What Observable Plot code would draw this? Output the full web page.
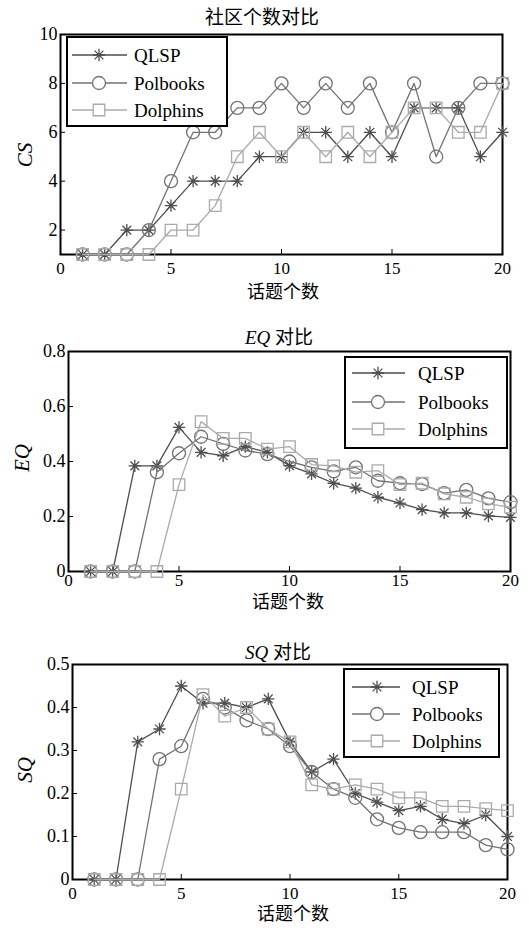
<!DOCTYPE html>
<html>
<head>
<meta charset="utf-8">
<script src="https://cdn.jsdelivr.net/npm/d3@7"></script>
<script src="https://cdn.jsdelivr.net/npm/@observablehq/plot@0.6"></script>
<style>
  html, body { margin: 0; padding: 0; background: #fff; }
  #root { position: relative; width: 529px; height: 928px; overflow: hidden; font-family: "Liberation Serif", "Noto Sans CJK SC", serif; }
  .abs { position: absolute; }
  .t { position: absolute; white-space: nowrap; transform: translate(-50%, -50%); color: #000; line-height: 1; }
  .yl { position: absolute; white-space: nowrap; transform: translate(-50%, -50%) rotate(-90deg); font-style: italic; font-size: 21px; line-height: 1; }
</style>
</head>
<body>
<div id="root"></div>
<script>
// ---------- data ----------
const topics = d3.range(1, 21);
const seriesNames = ["QLSP", "Polbooks", "Dolphins"];
const seriesColors = ["#4e4e4e", "#727272", "#aaaaaa"];
const xTicks = [0, 5, 10, 15, 20];

// 社区个数 (CS)
const csQLSP     = [1,1,2,2,3,4,4,4,5,5,6,6,5,6,5,7,7,7,5,6];
const csPolbooks = [1,1,1,2,4,6,6,7,7,8,7,8,7,8,6,8,5,7,8,8];
const csDolphins = [1,1,1,1,2,2,3,5,6,5,6,5,6,5,6,7,7,6,6,8];
const csTicks = [2, 4, 6, 8, 10];

// EQ
const eqQLSP     = [0,0,0.384,0.384,0.524,0.433,0.421,0.454,0.433,0.385,0.355,0.321,0.303,0.27,0.249,0.225,0.213,0.213,0.202,0.197];
const eqPolbooks = [0,0,0,0.361,0.43,0.49,0.464,0.44,0.427,0.40,0.379,0.364,0.379,0.33,0.321,0.318,0.285,0.297,0.266,0.252];
const eqDolphins = [0,0,0,0,0.316,0.545,0.484,0.484,0.445,0.454,0.389,0.384,0.361,0.367,0.316,0.321,0.282,0.27,0.246,0.234];
const eqTicks = [0, 0.2, 0.4, 0.6, 0.8];

// SQ
const sqQLSP     = [0,0,0.32,0.35,0.45,0.41,0.41,0.40,0.42,0.32,0.25,0.28,0.20,0.18,0.16,0.17,0.14,0.13,0.15,0.10];
const sqPolbooks = [0,0,0,0.28,0.31,0.42,0.40,0.37,0.35,0.31,0.25,0.21,0.19,0.14,0.12,0.11,0.11,0.11,0.08,0.07];
const sqDolphins = [0,0,0,0,0.21,0.43,0.38,0.40,0.35,0.32,0.22,0.21,0.22,0.21,0.19,0.19,0.17,0.17,0.165,0.16];
const sqTicks = [0, 0.1, 0.2, 0.3, 0.4, 0.5];

// ---------- helpers ----------
const asteriskSymbol = {
  draw(ctx, size) {
    const r = Math.sqrt(size / Math.PI) * 0.95;
    const d = r * Math.SQRT1_2;
    ctx.moveTo(0, -r); ctx.lineTo(0, r);
    ctx.moveTo(-r, 0); ctx.lineTo(r, 0);
    ctx.moveTo(-d, -d); ctx.lineTo(d, d);
    ctx.moveTo(-d, d); ctx.lineTo(d, -d);
  }
};
const symbols = [asteriskSymbol, "circle", "square"];

function rowsOf(arr) { return topics.map((t, i) => ({x: t, v: arr[i]})); }

const root = document.getElementById("root");
const serif = "'Liberation Serif', 'Times New Roman', serif";

function panel(cfg) {
  const marks = [
    Plot.frame({stroke: "#000", strokeWidth: 2}),
    Plot.axisX({ticks: xTicks, tickSize: -5, tickPadding: cfg.xPad, label: null, fontSize: 17, fontFamily: serif, tickFormat: d => String(d)}),
    Plot.axisY({ticks: cfg.yTicks, tickSize: -5, tickPadding: 8, label: null, fontSize: 18, fontFamily: serif, tickFormat: d => String(d)})
  ];
  cfg.series.forEach((arr, i) => {
    const rows = rowsOf(arr);
    marks.push(Plot.line(rows, {x: "x", y: "v", stroke: seriesColors[i], strokeWidth: 1.3}));
    marks.push(Plot.dot(rows, {x: "x", y: "v", stroke: seriesColors[i], fill: "none", strokeWidth: 1.3,
      symbol: symbols[i], r: 6.5}));
  });
  const chart = Plot.plot({
    width: 529, height: cfg.height,
    marginLeft: cfg.ml, marginRight: cfg.mr, marginTop: cfg.mt, marginBottom: cfg.mb,
    style: {fontFamily: serif, fontSize: "18px", color: "#000", background: "transparent", overflow: "visible"},
    x: {domain: [0, 20]},
    y: {domain: cfg.yDomain},
    marks
  });
  chart.style.position = "absolute";
  chart.style.left = "0px";
  chart.style.top = cfg.top + "px";
  root.appendChild(chart);

  // title
  const t = document.createElement("div");
  t.className = "t";
  t.style.left = cfg.title.x + "px"; t.style.top = cfg.title.y + "px";
  t.style.fontSize = "19px";
  t.innerHTML = cfg.title.html;
  root.appendChild(t);
  // x label
  const xl = document.createElement("div");
  xl.className = "t";
  xl.style.left = cfg.xlab.x + "px"; xl.style.top = cfg.xlab.y + "px";
  xl.style.fontSize = "18px";
  xl.textContent = "话题个数";
  root.appendChild(xl);
  // y label
  const yl = document.createElement("div");
  yl.className = "yl";
  yl.style.left = cfg.ylab.x + "px"; yl.style.top = cfg.ylab.y + "px";
  yl.textContent = cfg.ylab.text;
  root.appendChild(yl);

  // legend
  const L = cfg.legend;
  const svg = d3.select(root).append("svg")
    .attr("class", "abs")
    .style("left", L.left + "px").style("top", L.top + "px")
    .attr("width", L.w + 2).attr("height", L.h + 2)
    .style("overflow", "visible");
  svg.append("rect").attr("x", 1).attr("y", 1).attr("width", L.w).attr("height", L.h)
    .attr("fill", "#fff").attr("stroke", "#000").attr("stroke-width", 2);
  seriesNames.forEach((name, i) => {
    const g = svg.append("g").attr("transform", `translate(0,${L.rows[i]})`);
    g.append("line").attr("x1", L.l1).attr("x2", L.l2).attr("y1", 0).attr("y2", 0)
      .attr("stroke", seriesColors[i]).attr("stroke-width", 1.3);
    const sym = i === 0 ? asteriskSymbol : (i === 1 ? d3.symbolCircle : d3.symbolSquare);
    g.append("path").attr("d", d3.symbol(sym, 6.5 * 6.5 * Math.PI)())
      .attr("transform", `translate(${L.m},0)`)
      .attr("fill", i === 0 ? "none" : "#fff").attr("stroke", seriesColors[i]).attr("stroke-width", 1.3);
    g.append("text").attr("x", L.tx).attr("y", 0).attr("dy", "0.35em")
      .attr("font-family", serif).attr("font-size", 19).attr("fill", "#000")
      .text(name);
  });
}

panel({
  top: 0, height: 310, ml: 60, mr: 27, mt: 34, mb: 56, xPad: 12,
  yDomain: [1, 10], yTicks: csTicks,
  series: [csQLSP, csPolbooks, csDolphins],
  title: {x: 262, y: 17, html: "社区个数对比"},
  xlab: {x: 283, y: 292},
  ylab: {x: 25, y: 155, text: "CS"},
  legend: {left: 66, top: 36, w: 160, h: 89, rows: [19, 47, 74], l1: 6, l2: 61, m: 33, tx: 68}
});

panel({
  top: 310, height: 310, ml: 68, mr: 19, mt: 41, mb: 49, xPad: 7,
  yDomain: [0, 0.8], yTicks: eqTicks,
  series: [eqQLSP, eqPolbooks, eqDolphins],
  title: {x: 279, y: 337, html: "<i>EQ</i> 对比"},
  xlab: {x: 288, y: 602},
  ylab: {x: 22, y: 458, text: "EQ"},
  legend: {left: 344, top: 356, w: 162, h: 91, rows: [17, 46, 73], l1: 8, l2: 61, m: 34, tx: 74}
});

panel({
  top: 620, height: 308, ml: 72, mr: 22, mt: 44, mb: 49, xPad: 12,
  yDomain: [0, 0.5], yTicks: sqTicks,
  series: [sqQLSP, sqPolbooks, sqDolphins],
  title: {x: 278, y: 652, html: "<i>SQ</i> 对比"},
  xlab: {x: 293, y: 914},
  ylab: {x: 25, y: 770, text: "SQ"},
  legend: {left: 343, top: 668, w: 155, h: 88, rows: [19, 46, 73], l1: 9, l2: 57, m: 34, tx: 69}
});
</script>
</body>
</html>
